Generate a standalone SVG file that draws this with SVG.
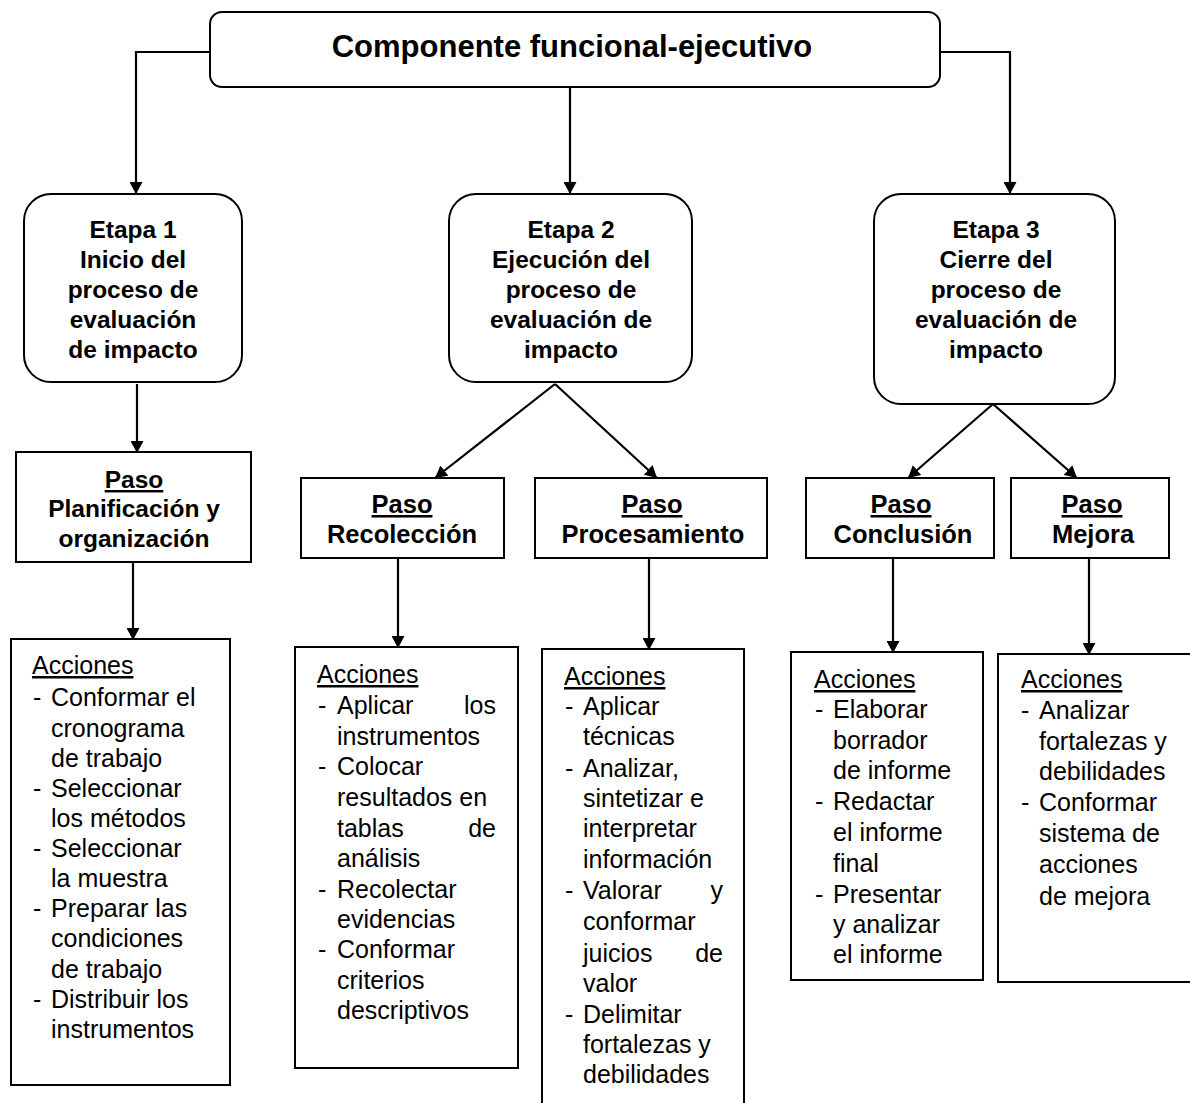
<svg xmlns="http://www.w3.org/2000/svg" width="1190" height="1103" viewBox="0 0 1190 1103">
<style>
text{font-family:"Liberation Sans",Arial,sans-serif;fill:#000}
.b{font-weight:bold;font-size:24.5px;text-anchor:middle}
.p{font-size:25.5px}
.t{font-weight:bold;font-size:31px;text-anchor:middle}
.a{font-size:25px}
.e{font-size:25px;text-anchor:end}
.u{text-decoration:underline}
.box{fill:#fff;stroke:#000;stroke-width:2}
.ln{fill:none;stroke:#000;stroke-width:2.2;marker-end:url(#ah)}
</style>
<defs>
<marker id="ah" markerUnits="userSpaceOnUse" markerWidth="13" markerHeight="13" refX="12" refY="6.5" orient="auto">
<path d="M0,0 L12,6.5 L0,13 z" fill="#000"/>
</marker>
</defs>
<rect width="1190" height="1103" fill="#fff"/>
<g id="top">
<rect class="box" x="210" y="12" width="730" height="75" rx="12"/>
<text class="t" x="572" y="57">Componente funcional-ejecutivo</text>
</g>
<g id="etapa1">
<rect class="box" x="24" y="194" width="218" height="188" rx="27"/>
<text class="b" x="133" y="238">Etapa 1</text>
<text class="b" x="133" y="268">Inicio del</text>
<text class="b" x="133" y="298">proceso de</text>
<text class="b" x="133" y="328">evaluación</text>
<text class="b" x="133" y="358">de impacto</text>
</g>
<g id="etapa2">
<rect class="box" x="449" y="194" width="243" height="188" rx="27"/>
<text class="b" x="571" y="238">Etapa 2</text>
<text class="b" x="571" y="268">Ejecución del</text>
<text class="b" x="571" y="298">proceso de</text>
<text class="b" x="571" y="328">evaluación de</text>
<text class="b" x="571" y="358">impacto</text>
</g>
<g id="etapa3">
<rect class="box" x="874" y="194" width="241" height="210" rx="27"/>
<text class="b" x="996" y="238">Etapa 3</text>
<text class="b" x="996" y="268">Cierre del</text>
<text class="b" x="996" y="298">proceso de</text>
<text class="b" x="996" y="328">evaluación de</text>
<text class="b" x="996" y="358">impacto</text>
</g>
<g id="paso-planificacion">
<rect class="box" x="16" y="452" width="235" height="110"/>
<text class="b" x="134" y="488"><tspan class="u">Paso</tspan></text>
<text class="b" x="134" y="517">Planificación y</text>
<text class="b" x="134" y="547">organización</text>
</g>
<g id="paso-recoleccion">
<rect class="box" x="301" y="478" width="203" height="80"/>
<text class="b p" x="402" y="513"><tspan class="u">Paso</tspan></text>
<text class="b p" x="402" y="543">Recolección</text>
</g>
<g id="paso-procesamiento">
<rect class="box" x="535" y="478" width="232" height="80"/>
<text class="b p" x="652" y="513"><tspan class="u">Paso</tspan></text>
<text class="b p" x="653" y="543">Procesamiento</text>
</g>
<g id="paso-conclusion">
<rect class="box" x="806" y="478" width="188" height="80"/>
<text class="b p" x="901" y="513"><tspan class="u">Paso</tspan></text>
<text class="b p" x="903" y="543">Conclusión</text>
</g>
<g id="paso-mejora">
<rect class="box" x="1011" y="478" width="158" height="80"/>
<text class="b p" x="1092" y="513"><tspan class="u">Paso</tspan></text>
<text class="b p" x="1093" y="543">Mejora</text>
</g>
<g id="acciones1">
<rect class="box" x="11" y="639" width="219" height="446"/>
<text class="a" x="32" y="674"><tspan class="u">Acciones</tspan></text>
<text class="a" x="33" y="706">-</text><text class="a" x="51" y="706">Conformar el</text>
<text class="a" x="51" y="737">cronograma</text>
<text class="a" x="51" y="767">de trabajo</text>
<text class="a" x="33" y="797">-</text><text class="a" x="51" y="797">Seleccionar</text>
<text class="a" x="51" y="827">los métodos</text>
<text class="a" x="33" y="857">-</text><text class="a" x="51" y="857">Seleccionar</text>
<text class="a" x="51" y="887">la muestra</text>
<text class="a" x="33" y="917">-</text><text class="a" x="51" y="917">Preparar las</text>
<text class="a" x="51" y="947">condiciones</text>
<text class="a" x="51" y="978">de trabajo</text>
<text class="a" x="33" y="1008">-</text><text class="a" x="51" y="1008">Distribuir los</text>
<text class="a" x="51" y="1038">instrumentos</text>
</g>
<g id="acciones2">
<rect class="box" x="295" y="647" width="223" height="421"/>
<text class="a" x="317" y="683"><tspan class="u">Acciones</tspan></text>
<text class="a" x="318" y="714">-</text><text class="a" x="337" y="714">Aplicar</text><text class="e" x="496" y="714">los</text>
<text class="a" x="337" y="745">instrumentos</text>
<text class="a" x="318" y="775">-</text><text class="a" x="337" y="775">Colocar</text>
<text class="a" x="337" y="806">resultados en</text>
<text class="a" x="337" y="837">tablas</text><text class="e" x="496" y="837">de</text>
<text class="a" x="337" y="867">análisis</text>
<text class="a" x="318" y="898">-</text><text class="a" x="337" y="898">Recolectar</text>
<text class="a" x="337" y="928">evidencias</text>
<text class="a" x="318" y="958">-</text><text class="a" x="337" y="958">Conformar</text>
<text class="a" x="337" y="989">criterios</text>
<text class="a" x="337" y="1019">descriptivos</text>
</g>
<g id="acciones3">
<rect class="box" x="542" y="649" width="202" height="470"/>
<text class="a" x="564" y="685"><tspan class="u">Acciones</tspan></text>
<text class="a" x="565" y="715">-</text><text class="a" x="583" y="715">Aplicar</text>
<text class="a" x="583" y="745">técnicas</text>
<text class="a" x="565" y="777">-</text><text class="a" x="583" y="777">Analizar,</text>
<text class="a" x="583" y="807">sintetizar e</text>
<text class="a" x="583" y="837">interpretar</text>
<text class="a" x="583" y="868">información</text>
<text class="a" x="565" y="899">-</text><text class="a" x="583" y="899">Valorar</text><text class="e" x="723" y="899">y</text>
<text class="a" x="583" y="930">conformar</text>
<text class="a" x="583" y="962">juicios</text><text class="e" x="723" y="962">de</text>
<text class="a" x="583" y="992">valor</text>
<text class="a" x="565" y="1023">-</text><text class="a" x="583" y="1023">Delimitar</text>
<text class="a" x="583" y="1053">fortalezas y</text>
<text class="a" x="583" y="1083">debilidades</text>
</g>
<g id="acciones4">
<rect class="box" x="791" y="652" width="192" height="328"/>
<text class="a" x="814" y="688"><tspan class="u">Acciones</tspan></text>
<text class="a" x="815" y="718">-</text><text class="a" x="833" y="718">Elaborar</text>
<text class="a" x="833" y="749">borrador</text>
<text class="a" x="833" y="779">de informe</text>
<text class="a" x="815" y="810">-</text><text class="a" x="833" y="810">Redactar</text>
<text class="a" x="833" y="841">el informe</text>
<text class="a" x="833" y="872">final</text>
<text class="a" x="815" y="903">-</text><text class="a" x="833" y="903">Presentar</text>
<text class="a" x="833" y="933">y analizar</text>
<text class="a" x="833" y="963">el informe</text>
</g>
<g id="acciones5">
<rect class="box" x="998" y="654" width="200" height="328"/>
<text class="a" x="1021" y="688"><tspan class="u">Acciones</tspan></text>
<text class="a" x="1021" y="719">-</text><text class="a" x="1039" y="719">Analizar</text>
<text class="a" x="1039" y="750">fortalezas y</text>
<text class="a" x="1039" y="780">debilidades</text>
<text class="a" x="1021" y="811">-</text><text class="a" x="1039" y="811">Conformar</text>
<text class="a" x="1039" y="842">sistema de</text>
<text class="a" x="1039" y="873">acciones</text>
<text class="a" x="1039" y="905">de mejora</text>
</g>
<g id="connectors">
<path class="ln" d="M210,52 H136 V194"/>
<path class="ln" d="M570,87 V194"/>
<path class="ln" d="M940,52 H1010 V194"/>
<path class="ln" d="M137,384 V453"/>
<path class="ln" d="M555,384 L435,478"/>
<path class="ln" d="M555,384 L657,478"/>
<path class="ln" d="M993,404 L908,478"/>
<path class="ln" d="M993,404 L1077,478"/>
<path class="ln" d="M133,562 V640"/>
<path class="ln" d="M398,558 V648"/>
<path class="ln" d="M649,558 V650"/>
<path class="ln" d="M893,558 V653"/>
<path class="ln" d="M1089,558 V655"/>
</g>
</svg>
